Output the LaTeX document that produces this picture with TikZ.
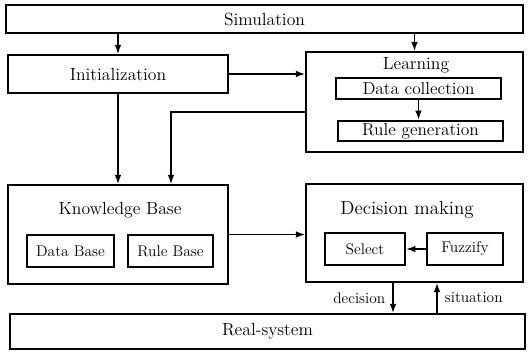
\documentclass[tikz,border=0pt]{standalone}
\usetikzlibrary{arrows.meta}
\begin{document}
\begin{tikzpicture}[x=0.75pt,y=-0.75pt,
    outer/.style={draw, line width=1.2pt, inner sep=0pt},
    inbox/.style={draw, line width=1.6pt, inner sep=0pt, font=\fontsize{11.6}{14}\selectfont},
    big/.style={font=\fontsize{13.2}{16}\selectfont},
    flow/.style={line width=1.2pt, -{Latex[length=7pt,width=5pt]}}]
          \useasboundingbox (0,0) rectangle (528,352);
          % Outer blocks:
          \node[outer, big, minimum width=387.75pt, minimum height=21pt] (sim) at (264.5,19) {Simulation};
          \node[outer, big, minimum width=165pt, minimum height=28.5pt] (init) at (118,74) {Initialization};
          \node[outer, minimum width=162.75pt, minimum height=75pt] (learn) at (414.5,102) {};
          \node[big] (learnlbl) at (416,65) {Learning};
          \node[outer, minimum width=165pt, minimum height=74.25pt] (kb) at (118,234.5) {};
          \node[big] (kblbl) at (120,210) {Knowledge Base};
          \node[outer, minimum width=162.75pt, minimum height=73.5pt] (dm) at (414.5,233) {};
          \node[font=\fontsize{14.2}{16}\selectfont] (dmlbl) at (407,210) {Decision making};
          \node[outer, big, minimum width=386.25pt, minimum height=26.25pt] (real) at (267.5,331.5) {Real-system};
          %
          % Inner blocks:
          \node[inbox, font=\fontsize{13}{15}\selectfont, minimum width=123.75pt, minimum height=15.75pt] (dc) at (418.5,88.5) {Data collection};
          \node[inbox, font=\fontsize{13}{15}\selectfont, minimum width=123.75pt, minimum height=15pt] (rg) at (420.5,131) {Rule generation};
          \node[inbox, minimum width=65.25pt, minimum height=24pt] (db) at (70.5,251) {Data Base};
          \node[inbox, minimum width=63.75pt, minimum height=24pt] (rb) at (170.5,251) {Rule Base};
          \node[inbox, minimum width=60pt, minimum height=24pt] (sel) at (365,249) {Select};
          \node[inbox, minimum width=57pt, minimum height=24pt] (fuz) at (465,249) {Fuzzify};
          %
          % Flow Edges:
          \draw[flow] (init.north |- sim.south) -- (init.north);
          \draw[flow] (learn.north |- sim.south) -- (learn.north);
          \draw[flow] (init.east) -- (init.east -| learn.west);
          \draw[flow] (init.south) -- (kb.north);
          \draw[flow] ([yshift=-7.5pt]learn.west) -| ([xshift=39.75pt]kb.north);
          \draw[flow] (dc.south) -- (dc.south |- rg.north);
          \draw[flow] (kb.east) -- (kb.east -| dm.west);
          \draw[flow] (fuz.west) -- (sel.east);
          \draw[flow] ([xshift=-16.1pt]dm.south) -- ([xshift=-16.1pt]dm.south |- real.north)
                node [pos=0.5, left=2pt, font=\fontsize{11.5}{14}\selectfont] (declbl) {decision};
          \draw[flow] ([xshift=16.9pt]dm.south |- real.north) -- ([xshift=16.9pt]dm.south)
                node [pos=0.5, right=2pt, font=\fontsize{11.5}{14}\selectfont] (sitlbl) {situation};
\end{tikzpicture}
\end{document}
